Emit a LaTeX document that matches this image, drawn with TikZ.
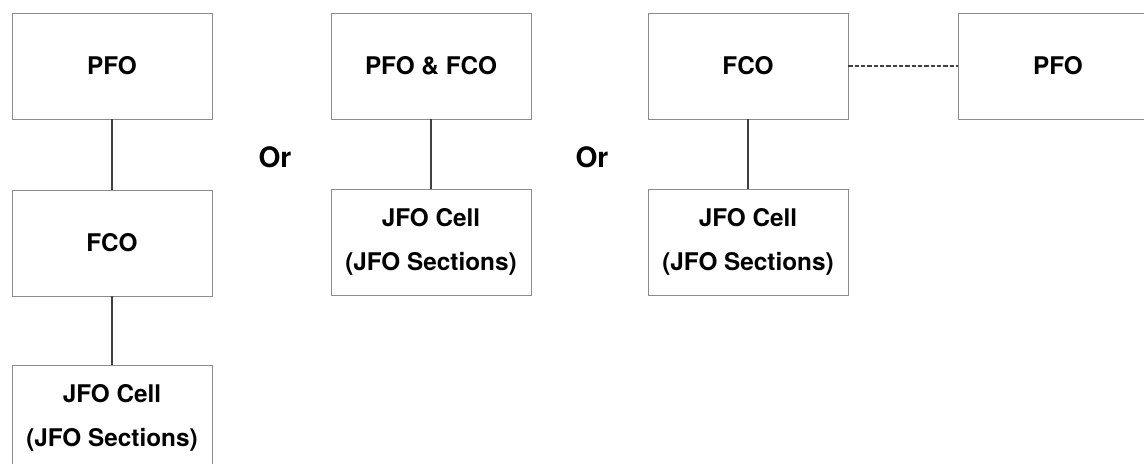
\documentclass[tikz,border=0pt]{standalone}
\usepackage{fontspec}
\setmainfont{TeX Gyre Heros}
\begin{document}
\begin{tikzpicture}[x=0.025cm,y=-0.025cm,
        box/.style={draw=black!45,line width=.6pt,fill=white,minimum width=5cm,minimum height=2.65cm,
            align=center,font=\bfseries\fontsize{17.3}{31.3}\selectfont},
        link/.style={draw=black!75,line width=.8pt},
        alt/.style={font=\bfseries\fontsize{20}{24}\selectfont}]
        \useasboundingbox (0,0) rectangle (1144,464);
        % first layout: three levels
        \node[box] (pfoA) at (112,66){PFO};
        \node[box] (fcoA) at (112,243){FCO};
        \node[box] (jfoA) at (112,418){JFO Cell\\(JFO Sections)};
        \draw[link] (pfoA)--(fcoA);
        \draw[link] (fcoA)--(jfoA);
        \node[alt] (orA) at (275,157){Or};
        % second layout: combined office
        \node[box] (pfcoB) at (431,66){PFO \& FCO};
        \node[box] (jfoB) at (431,242){JFO Cell\\(JFO Sections)};
        \draw[link] (pfcoB)--(jfoB);
        \node[alt] (orB) at (592,157){Or};
        % third layout: separate PFO
        \node[box] (fcoC) at (748,66){FCO};
        \node[box] (jfoC) at (748,242){JFO Cell\\(JFO Sections)};
        \node[box] (pfoC) at (1058,66){PFO};
        \draw[link] (fcoC)--(jfoC);
        \draw[link,dash pattern=on 3pt off 1.5pt] (fcoC)--(pfoC);
    \end{tikzpicture}
\end{document}
